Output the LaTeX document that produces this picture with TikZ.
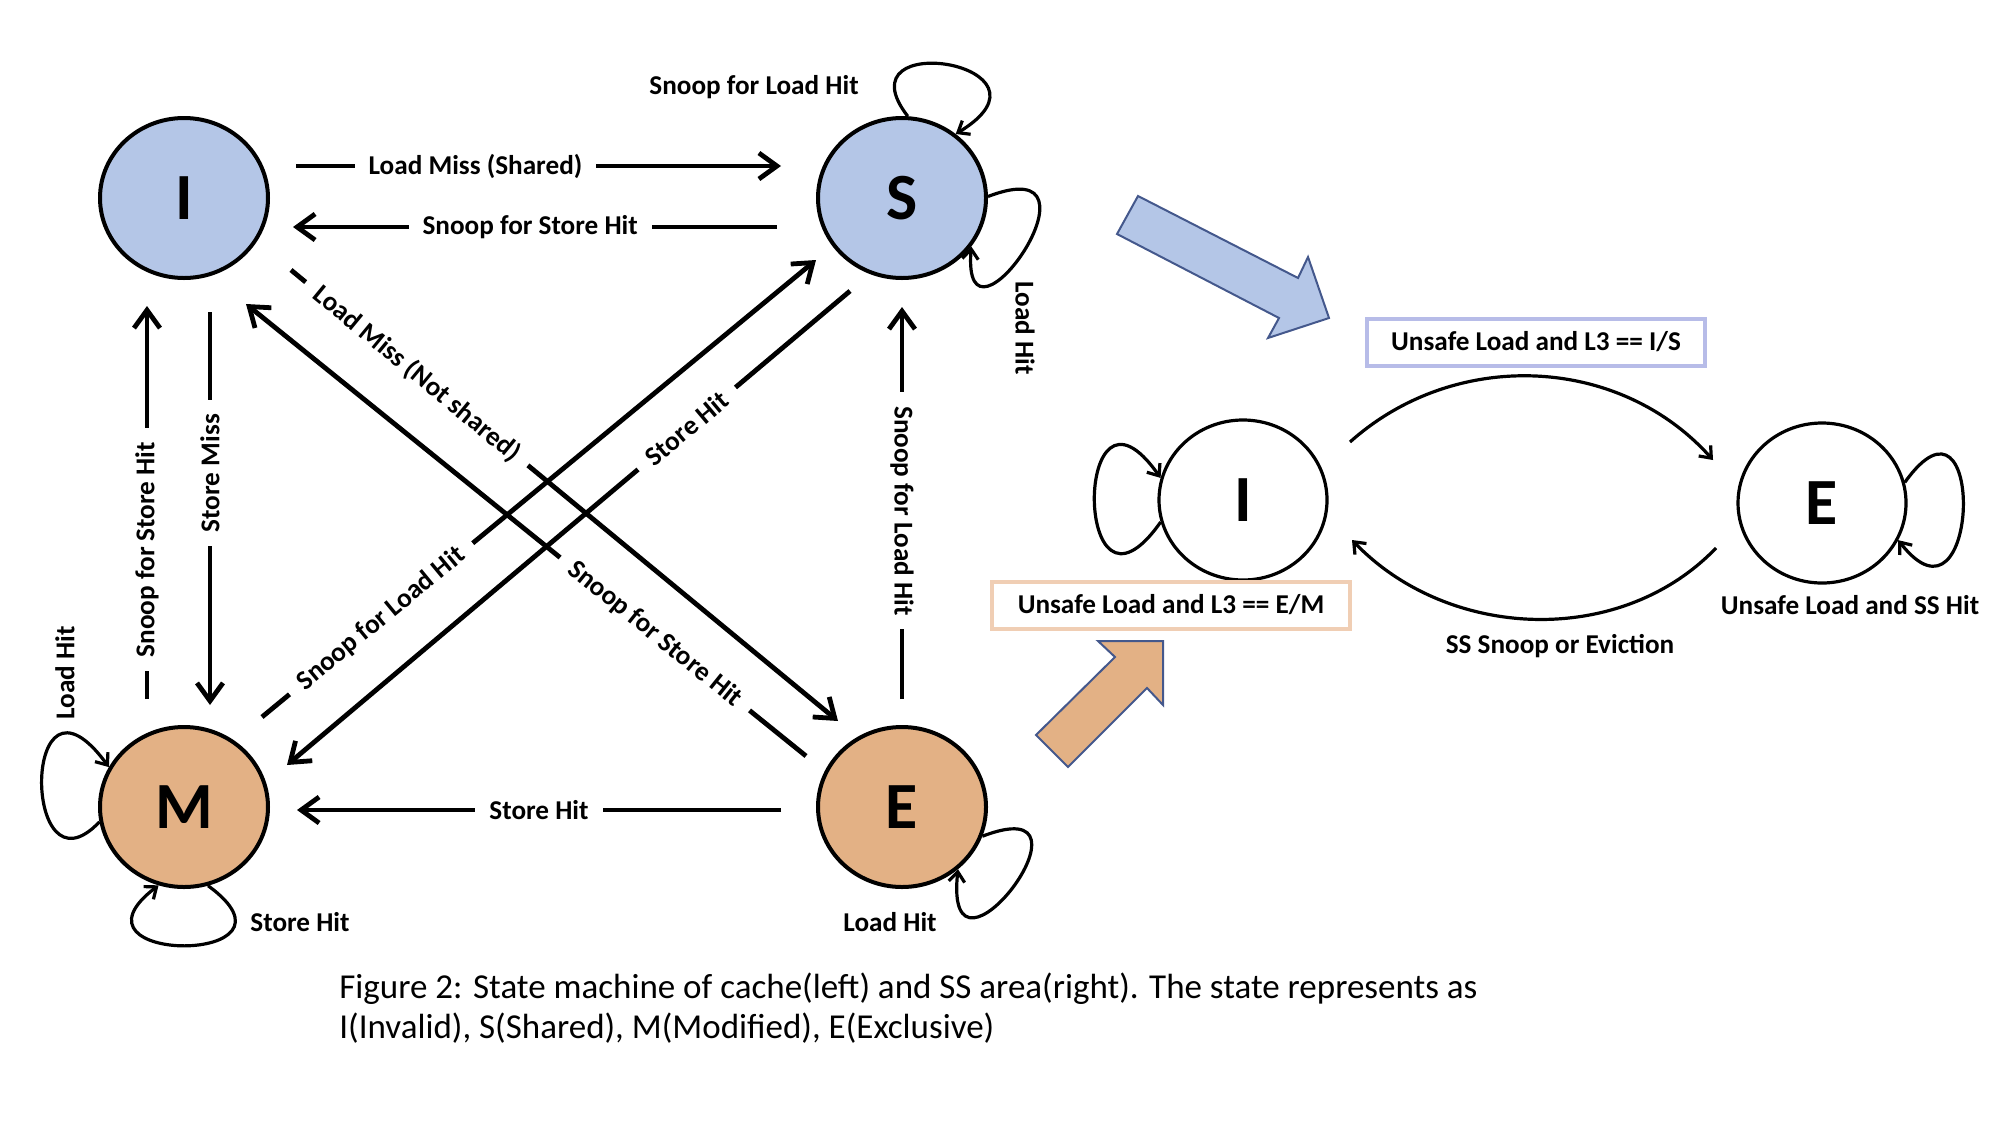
\documentclass[tikz,border=0pt]{standalone}
\usepackage{fontspec}
\setmainfont{Carlito}
\usepackage{tikz}
\usetikzlibrary{arrows.meta,calc,shapes.geometric}

\definecolor{stblue}{RGB}{180,198,231}
\definecolor{storange}{RGB}{227,177,133}
\definecolor{boxblue}{RGB}{183,188,232}
\definecolor{boxorange}{RGB}{240,206,180}
\definecolor{bigedge}{RGB}{68,88,140}

\tikzset{
  state/.style={shape=ellipse,draw=black,line width=2pt,minimum width=84pt,minimum height=80pt,inner sep=0pt,font=\bfseries\fontsize{33}{33}\selectfont},
  move/.style={line width=2.4pt,-{Straight Barb[length=9pt,width=13pt]}},
  lab/.style={fill=white,inner xsep=7pt,inner ysep=2pt,font=\bfseries\fontsize{13.6}{16}\selectfont},
  note/.style={inner sep=0pt,font=\bfseries\fontsize{13.6}{16}\selectfont},
  self/.style={line width=1.6pt,-{Straight Barb[length=5pt,width=8pt]}},
  cond/.style={draw=#1,line width=2pt,minimum height=23.5pt,inner sep=0pt,font=\bfseries\fontsize{13.6}{16}\selectfont},
  bigarrow/.style={draw=bigedge,line width=1pt,fill=#1}
}

\begin{document}
\begin{tikzpicture}[x=0.5pt,y=0.5pt]
\useasboundingbox (0,0) rectangle (2000,-1125);
% cache states
\path (184,-198) node[state,fill=stblue] (I) {I}
      (902,-198) node[state,fill=stblue] (S) {S}
      (184,-807) node[state,fill=storange] (M) {M}
      (902,-807) node[state,fill=storange] (E) {E};
% transitions
\draw[move] ($(I)+(112,32)$) -- node[lab,pos=.37] (lmShared) {Load Miss (Shared)} ($(S)+(-121,32)$);
\draw[move] ($(S)+(-125,-29)$) -- node[lab,pos=.51] (snStoreSI) {Snoop for Store Hit} ($(I)+(109,-29)$);
\draw[move] ($(I)+(107,-72)$) -- node[lab,sloped,pos=.23] (lmNotShared) {Load Miss (Not shared)} ($(E)+(-64,86)$);
\draw[move] ($(E)+(-96,51)$) -- node[lab,sloped,pos=.27] (snStoreEI) {Snoop for Store Hit} ($(I)+(62,-106)$);
\draw[move] ($(M)+(78,90)$) -- node[lab,sloped,pos=.215] (snLoadMS) {Snoop for Load Hit} ($(S)+(-86,-62)$);
\draw[move] ($(S)+(-52,-93)$) -- node[lab,sloped,pos=.29] (stHitSM) {Store Hit} ($(M)+(103,42)$);
\draw[move] ($(M)+(-37,108)$) -- node[lab,rotate=90,pos=.38] (snStoreMI) {Snoop for Store Hit} ($(I)+(-37,-108)$);
\draw[move] ($(I)+(26,-114)$) -- node[lab,rotate=90,pos=.41] (stMiss) {Store Miss} ($(M)+(26,102)$);
\draw[move] ($(E)+(0,108)$) -- node[lab,rotate=-90,pos=.48] (snLoadES) {Snoop for Load Hit} ($(S)+(0,-109)$);
\draw[move] ($(E)+(-121,-3)$) -- node[lab,pos=.5] (stHitEM) {Store Hit} ($(M)+(113,-3)$);
% self loops
\draw[self] (S.86) .. controls +(-70,90) and +(115,70) .. (S.50);
\draw[self] (S.1) .. controls +(130,50) and +(-10,-125) .. (S.-35);
\draw[self] (M.190) .. controls +(-78,-82) and +(-88,120) .. (M.152);
\draw[self] (M.-73) .. controls +(110,-80) and +(-105,-80) .. (M.-108);
\draw[self] (E.-20) .. controls +(130,50) and +(-15,-140) .. (E.-48);
\path (754,-87) node[note] (snLoadSS) {Snoop for Load Hit}
      (1025,-328) node[note,rotate=-90] (ldHitS) {Load Hit}
      (65,-673) node[note,rotate=90] (ldHitM) {Load Hit}
      (300,-922) node[note] (stHitM) {Store Hit}
      (890,-922) node[note] (ldHitE) {Load Hit};
% big arrows
\draw[bigarrow=stblue] (1138,-196) -- (1298,-278) -- (1308,-257) -- (1329,-318) -- (1268,-338) -- (1279,-318) -- (1117,-234) -- cycle;
\draw[bigarrow=storange] (1036,-735) -- (1115,-657) -- (1098,-641) -- (1163,-641) -- (1163,-705) -- (1147,-688) -- (1068,-767) -- cycle;
% SS area states
\path (1243,-500) node[state,fill=white,line width=1.6pt] (ssI) {I}
      (1822,-503) node[state,fill=white,line width=1.6pt] (ssE) {E};
\draw[self] (ssI.195) .. controls +(-88,-125) and +(-88,125) .. (ssI.165);
\draw[self] (ssE.14) .. controls +(82,115) and +(82,-105) .. (ssE.-26);
\draw[self] ($(ssI)+(107,58)$) .. controls +(105,94) and +(-94,105) .. ($(ssE)+(-109,43)$);
\draw[self] ($(ssE)+(-106,-45)$) .. controls +(-96,-100) and +(96,-100) .. ($(ssI)+(109,-40)$);
\path (1536,-342) node[cond=boxblue,minimum width=169pt] (isBox) {Unsafe Load and L3 == I/S}
      (1171,-605) node[cond=boxorange,minimum width=179pt] (emBox) {Unsafe Load and L3 == E/M}
      (1560,-646) node[note] (ssSnoop) {SS Snoop or Eviction}
      (1850,-605) node[note] (ssHit) {Unsafe Load and SS Hit};
% caption
\node[anchor=west,align=left,inner sep=0pt,font=\fontsize{17.5}{20}\selectfont] (caption) at (339,-1008)
  {Figure 2: State machine of cache(left) and SS area(right). The state represents as\\I(Invalid), S(Shared), M(Modified), E(Exclusive)};
\end{tikzpicture}
\end{document}
